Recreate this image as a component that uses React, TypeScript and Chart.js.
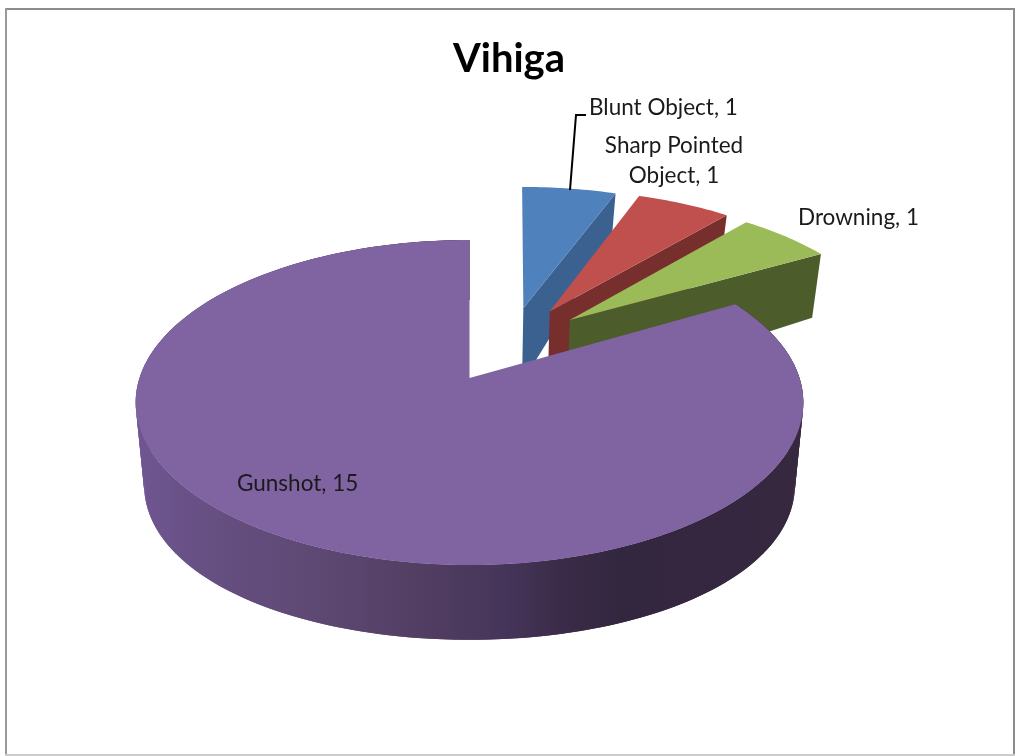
import React, { useEffect, useRef } from "react";
import { Chart, registerables } from "chart.js";

Chart.register(...registerables);

const categories = ["Blunt Object", "Sharp Pointed Object", "Drowning", "Gunshot"];
const values = [1, 1, 1, 15];

const topColors = ["#4f81bd", "#c0504d", "#9bbb59", "#8064a2"];
const wallColors = ["#3a6190", "#772f2e", "#4d5c2b", "#3a2c48"];
const explodePx = [168, 174, 170, 0];
const explodeDirDeg = [22.5, 32, 41.5, 0];

const titleText = "Vihiga";
const FONT = "Lato, 'Open Sans', sans-serif";

// Projection of the pie disc
const CX = 469.5, CY = 378, R = 330, A = 158.8, B = 0.151;
const TIP_SHIFT_U = -0.02;
const project = (u: number, v: number) => ({
  x: CX + (R * u) / (1 + B * v),
  y: CY - (A * v) / (1 + B * v),
});
const wallDepth = (v: number) => 81 - 7.4 * v - 13.6 * v * v;
const projectLow = (u: number, v: number) => {
  const p = project(u, v);
  return { x: CX + (p.x - CX) * 0.975, y: p.y + wallDepth(v) };
};

const labelLayout = [
  { lines: (t: string) => [t], x: 589, y: 108, align: "left" },
  { lines: (t: string) => ["Sharp Pointed", t.replace("Sharp Pointed ", "")], x: 674, y: 146, align: "center" },
  { lines: (t: string) => [t], x: 798, y: 218, align: "left" },
  { lines: (t: string) => [t], x: 237, y: 484, align: "left" },
];

const pie3d = {
  id: "pie3d",
  beforeDraw(chart: any) {
    const c = chart.ctx;
    c.save();
    c.fillStyle = "#ffffff";
    c.fillRect(0, 0, chart.width, chart.height);
    c.fillStyle = "#8c8c8c";
    c.fillRect(5, 8, 1010, 2);
    c.fillStyle = "#9a9a9a";
    c.fillRect(5, 8, 2, 748);
    c.fillStyle = "#8c8c8c";
    c.fillRect(1013, 8, 2, 748);
    c.fillStyle = "#cccccc";
    c.fillRect(5, 754, 1010, 2);
    c.restore();
  },
  beforeDatasetDraw(chart: any) {
    const c = chart.ctx;
    const arcs = chart.getDatasetMeta(0).data;
    const grad = c.createLinearGradient(135, 0, 802, 0);
    [
      [0, "#6f5692"], [0.13, "#654e80"], [0.25, "#5f4a76"], [0.43, "#523e62"],
      [0.55, "#46355a"], [0.64, "#3a2c48"], [0.73, "#33263f"], [1, "#36283f"],
    ].forEach(([s, col]) => grad.addColorStop(s as number, col as string));

    const poly = (pts: { x: number; y: number }[], fill: any) => {
      c.beginPath();
      pts.forEach((pt, k) => (k ? c.lineTo(pt.x, pt.y) : c.moveTo(pt.x, pt.y)));
      c.closePath();
      c.fillStyle = fill;
      c.fill();
    };

    arcs.forEach((el: any, i: number) => {
      const a0 = el.startAngle + Math.PI / 2;
      const a1 = el.endAngle + Math.PI / 2;
      const off = el.options.offset || 0;
      const d = off / R;
      const dir = (explodeDirDeg[i] * Math.PI) / 180;
      const ou = d * Math.sin(dir);
      const ov = d * Math.cos(dir);
      const tu = off > 0 ? ou + TIP_SHIFT_U : ou;
      const steps = Math.max(6, Math.round(((a1 - a0) * 180) / Math.PI));
      const rim: [number, number][] = [];
      for (let s = 0; s <= steps; s++) {
        const t = a0 + ((a1 - a0) * s) / steps;
        rim.push([ou + Math.sin(t), ov + Math.cos(t)]);
      }

      if (off > 0) {
        // radial wall at the slice's closing edge
        const e = rim[rim.length - 1];
        poly([project(tu, ov), project(e[0], e[1]), projectLow(e[0], e[1]), projectLow(tu, ov)], wallColors[i]);
      } else {
        // outer wall of the main body: overlapping bands so no seams show
        for (let s = 0; s < steps; s++) {
          const p = rim[s];
          const q = rim[Math.min(s + 2, steps)];
          poly([project(p[0], p[1]), project(q[0], q[1]), projectLow(q[0], q[1]), projectLow(p[0], p[1])], grad);
        }
      }

      // top surface
      poly([project(tu, ov), ...rim.map((r) => project(r[0], r[1]))], topColors[i]);
    });
    return false;
  },
  afterDatasetsDraw(chart: any) {
    const c = chart.ctx;
    c.save();
    // leader line of the first label
    c.strokeStyle = "#000000";
    c.lineWidth = 2;
    c.beginPath();
    c.moveTo(570, 190);
    c.lineTo(576, 115);
    c.lineTo(586, 115);
    c.stroke();

    c.font = `22.5px ${FONT}`;
    c.fillStyle = "#1a1a1a";
    c.textBaseline = "middle";
    categories.forEach((cat, i) => {
      const l = labelLayout[i];
      c.textAlign = l.align;
      l.lines(`${cat}, ${values[i]}`).forEach((line, k) => {
        c.fillText(line, l.x, l.y + k * 30);
      });
    });
    c.restore();
  },
};

export default function App() {
  const ref = useRef<HTMLCanvasElement>(null);
  useEffect(() => {
    const chart = new Chart(ref.current as HTMLCanvasElement, {
      type: "pie",
      data: {
        labels: categories,
        datasets: [{ data: values, backgroundColor: topColors, offset: explodePx, borderWidth: 0 }],
      },
      options: {
        animation: false,
        responsive: false,
        layout: { padding: 0 },
        plugins: {
          legend: { display: false },
          tooltip: { enabled: false },
          title: {
            display: true,
            text: titleText,
            color: "#000000",
            font: { family: FONT, size: 40, weight: "bold" },
            padding: { top: 35, bottom: 10 },
          },
        },
      },
      plugins: [pie3d],
    } as any);
    return () => chart.destroy();
  }, []);
  return (
    <div style={{ position: "absolute", left: 0, top: 0, width: 1018, height: 756 }}>
      <canvas ref={ref} width={1018} height={756} style={{ display: "block" }} />
    </div>
  );
}
